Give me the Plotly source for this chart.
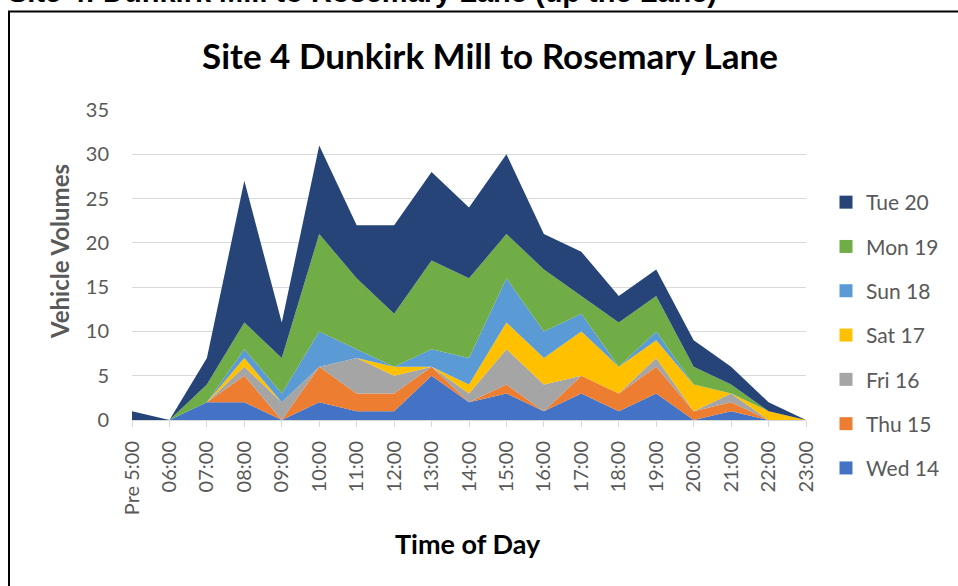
import plotly.graph_objects as go

categories = ["Pre 5:00", "06:00", "07:00", "08:00", "09:00", "10:00", "11:00", "12:00",
              "13:00", "14:00", "15:00", "16:00", "17:00", "18:00", "19:00", "20:00",
              "21:00", "22:00", "23:00"]

wed14 = [0, 0, 2, 2, 0, 2, 1, 1, 5, 2, 3, 1, 3, 1, 3, 0, 1, 0, 0]
thu15 = [0, 0, 0, 3, 0, 4, 2, 2, 1, 0, 1, 0, 2, 2, 3, 1, 1, 0, 0]
fri16 = [0, 0, 0, 1, 2, 0, 4, 2, 0, 1, 4, 3, 0, 0, 1, 0, 1, 0, 0]
sat17 = [0, 0, 0, 1, 0, 0, 0, 1, 0, 1, 3, 3, 5, 3, 2, 3, 0, 1, 0]
sun18 = [0, 0, 0, 1, 1, 4, 1, 0, 2, 3, 5, 3, 2, 0, 1, 0, 0, 0, 0]
mon19 = [0, 0, 2, 3, 4, 11, 8, 6, 10, 9, 5, 7, 2, 5, 4, 2, 1, 0, 0]
tue20 = [1, 0, 3, 16, 4, 10, 6, 10, 10, 8, 9, 4, 5, 3, 3, 3, 2, 1, 0]

series_names = ["Wed 14", "Thu 15", "Fri 16", "Sat 17", "Sun 18", "Mon 19", "Tue 20"]
series_values = [wed14, thu15, fri16, sat17, sun18, mon19, tue20]
series_colors = ["#4472C4", "#ED7D31", "#A5A5A5", "#FFC000", "#5B9BD5", "#70AD47", "#264478"]

y_ticks = [0, 5, 10, 15, 20, 25, 30, 35]

FONT = "Lato"
GREY = "#595959"

# plot area in pixels
W, H = 958, 586
L, R, T, B = 132, 806, 110, 420


def px(x):
    return (x - L) / (R - L)


def py(y):
    return (B - y) / (B - T)


fig = go.Figure()
for name, vals, col in zip(series_names, series_values, series_colors):
    fig.add_trace(go.Scatter(
        x=categories, y=vals, name=name, stackgroup="one", mode="none",
        fillcolor=col, showlegend=False, hoverinfo="x+y+name"))

# legend entries (Tue on top, as in the reference)
for name, col in reversed(list(zip(series_names, series_colors))):
    fig.add_trace(go.Scatter(
        x=[None], y=[None], name=name, mode="markers",
        marker=dict(symbol="square", size=13, color=col),
        legendgroup=name, showlegend=True))

fig.update_layout(
    width=W, height=H,
    margin=dict(l=L, r=W - R, t=T, b=H - B, pad=0),
    paper_bgcolor="white", plot_bgcolor="white",
    font=dict(family=FONT, color=GREY, size=20),
    showlegend=True,
    legend=dict(
        x=px(826), y=py(182), xanchor="left", yanchor="top",
        traceorder="grouped", tracegroupgap=14,
        font=dict(family=FONT, size=21, color=GREY),
        itemwidth=30, bgcolor="rgba(0,0,0,0)"),
    xaxis=dict(
        type="category", range=[0, len(categories) - 1],
        tickangle=-90, tickfont=dict(family=FONT, size=20, color=GREY),
        showgrid=False, showline=True, linecolor="#D9D9D9", linewidth=1,
        ticks="outside", ticklen=6, tickcolor="#D9D9D9", zeroline=False,
        ticklabelstandoff=6),
    yaxis=dict(
        range=[0, 35], tickvals=y_ticks, ticktext=[str(v) for v in y_ticks],
        tickfont=dict(family=FONT, size=20, color=GREY),
        showgrid=True, gridcolor="#D9D9D9", gridwidth=1,
        showline=False, zeroline=False, ticks="", ticklabelstandoff=22),
)

annotations = [
    dict(text="<b>Site 4 Dunkirk Mill to Rosemary Lane</b>", x=px(490), y=py(55),
         xref="paper", yref="paper", showarrow=False, xanchor="center", yanchor="middle",
         font=dict(family=FONT, size=35, color="#000000")),
    dict(text="<b>Vehicle Volumes</b>", x=px(60), y=py(252), textangle=-90,
         xref="paper", yref="paper", showarrow=False, xanchor="center", yanchor="middle",
         font=dict(family=FONT, size=24, color=GREY)),
    dict(text="<b>Time of Day</b>", x=px(468), y=py(543),
         xref="paper", yref="paper", showarrow=False, xanchor="center", yanchor="middle",
         font=dict(family=FONT, size=27, color="#000000")),
    dict(text="<b>Site 4: Dunkirk Mill to Rosemary Lane (up the Lane)</b>", x=px(7), y=py(9),
         xref="paper", yref="paper", showarrow=False, xanchor="left", yanchor="bottom",
         borderpad=0, font=dict(family="Liberation Sans", size=29, color="#000000")),
]
fig.update_layout(annotations=annotations)

fig.update_layout(shapes=[
    dict(type="line", xref="paper", yref="paper", x0=px(9), x1=px(9), y0=py(11.5), y1=py(600),
         line=dict(color="black", width=2)),
    dict(type="line", xref="paper", yref="paper", x0=px(8), x1=px(970), y0=py(11.5), y1=py(11.5),
         line=dict(color="black", width=2)),
])

fig.write_html("out.html", post_script="document.body.style.margin='0';",
               config={"displayModeBar": False})
